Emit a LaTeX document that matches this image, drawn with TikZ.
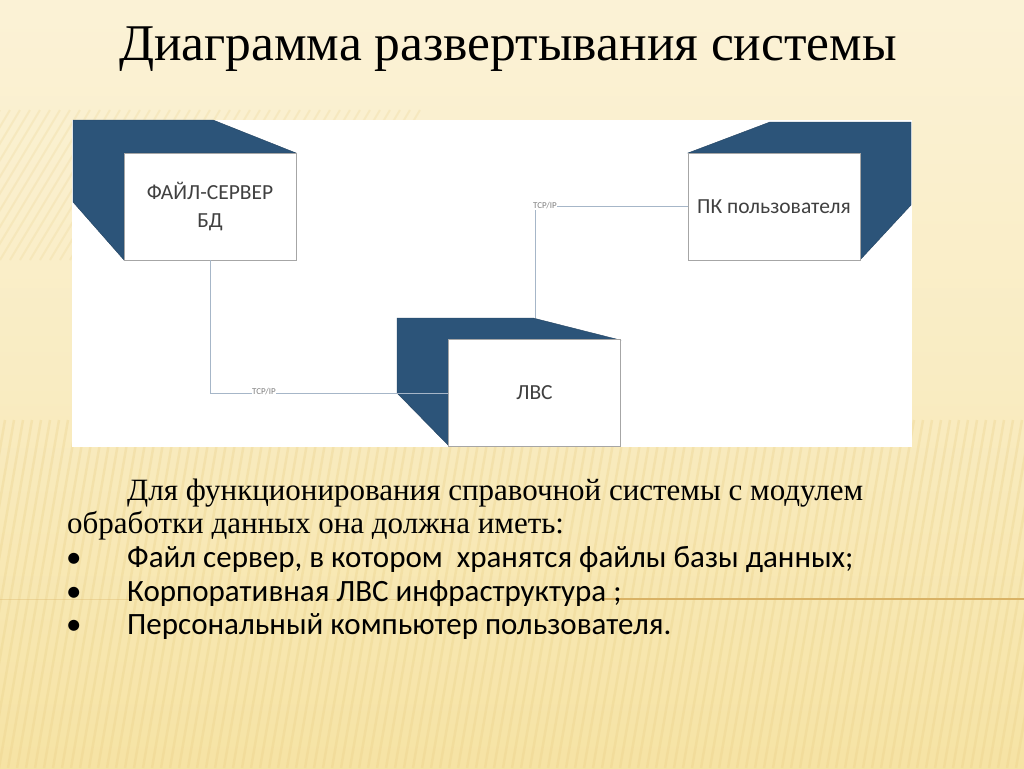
\documentclass[tikz,border=0pt]{standalone}
\usepackage{fontspec}
\setmainfont{Liberation Serif}
\newfontfamily\calfont{Carlito}
\definecolor{bgtop}{HTML}{FBF2D6}
\definecolor{bgbot}{HTML}{F6E3A4}
\definecolor{stripe}{HTML}{E9CF86}
\definecolor{darkblue}{HTML}{2C5479}
\definecolor{conncol}{HTML}{A6B6C8}
\definecolor{facetext}{HTML}{404040}
\definecolor{themeline}{HTML}{D9B265}
\tikzset{
  face/.style={draw=gray!70, fill=white, line width=0.8pt, minimum width=172pt, minimum height=107pt, inner sep=0pt, align=center, font=\calfont\fontsize{21.5}{26}\selectfont, text=facetext},
  side/.style={fill=darkblue, draw=darkblue!80!black, line width=0.4pt},
  conn/.style={draw=conncol, line width=1pt},
  tcp/.style={fill=white, inner sep=0.5pt, font=\calfont\fontsize{9}{10}\selectfont, text=gray},
  bodyserif/.style={anchor=base west, font=\fontsize{31}{36}\selectfont, inner sep=0pt},
  bodysans/.style={anchor=base west, font=\calfont\fontsize{31}{36}\selectfont, inner sep=0pt},
}
\begin{document}
\begin{tikzpicture}[x=1pt,y=-1pt]
\useasboundingbox (0,0) rectangle (1024,768);
% background
\shade[top color=bgtop, bottom color=bgbot, middle color=bgtop!60!bgbot] (0,0) rectangle (1024,768);
\foreach \i in {-100,-91,...,1050} {
  \draw[stripe, opacity=0.3, line width=2.5pt] (\i,768) -- (\i+60,420);
}
\foreach \i in {-100,-90,...,330} {
  \draw[stripe, opacity=0.22, line width=2pt] (\i,260) -- (\i+90,110);
}
\draw[themeline, opacity=0.35, line width=0.8pt] (0,599) -- (600,599);
\draw[themeline, line width=1.2pt] (600,599) -- (1024,599);
% title
\node[font=\fontsize{51.5}{60}\selectfont, anchor=base] (title) at (508,60) {Диаграмма развертывания системы};
% white panel
\fill[white] (72,120) rectangle (912,447);
% dark sides
\fill[side] (73,120) -- (213,120) -- (296,153) -- (124,153) -- (124,260) -- (73,202) -- cycle;
\fill[side] (397,318) -- (533,318) -- (620,340) -- (449,340) -- (449,446) -- (397,393) -- cycle;
\fill[side] (688,153) -- (770,122) -- (911,122) -- (911,205) -- (860,260) -- (860,153) -- cycle;
% front faces
\node[face] (fs) at (210,206.5) {ФАЙЛ-СЕРВЕР\\[2pt]БД};
\node[face] (lan) at (534.5,393) {ЛВС};
\node[face] (pc) at (774,206.5) {ПК пользователя};
% connectors
\coordinate (lantop) at (535,318);
\draw[conn] (fs.south) |- (lan.west);
\draw[conn] (lantop) |- (pc.west);
\node[tcp] (tcp1) at (264,392) {TCP/IP};
\node[tcp] (tcp2) at (545,206) {TCP/IP};
% text
\node[bodyserif] (p1) at (127,500) {Для функционирования справочной системы с модулем};
\node[bodyserif] (p2) at (67,533) {обработки данных она должна иметь:};
\node[bodysans] (b1) at (66,567) {•};
\node[bodysans] (l1) at (127,567) {Файл сервер, в котором\ \ хранятся файлы базы данных;};
\node[bodysans] (b2) at (66,601) {•};
\node[bodysans] (l2) at (127,601) {Корпоративная ЛВС инфраструктура ;};
\node[bodysans] (b3) at (66,634) {•};
\node[bodysans] (l3) at (127,634) {Персональный компьютер пользователя.};
\end{tikzpicture}
\end{document}
